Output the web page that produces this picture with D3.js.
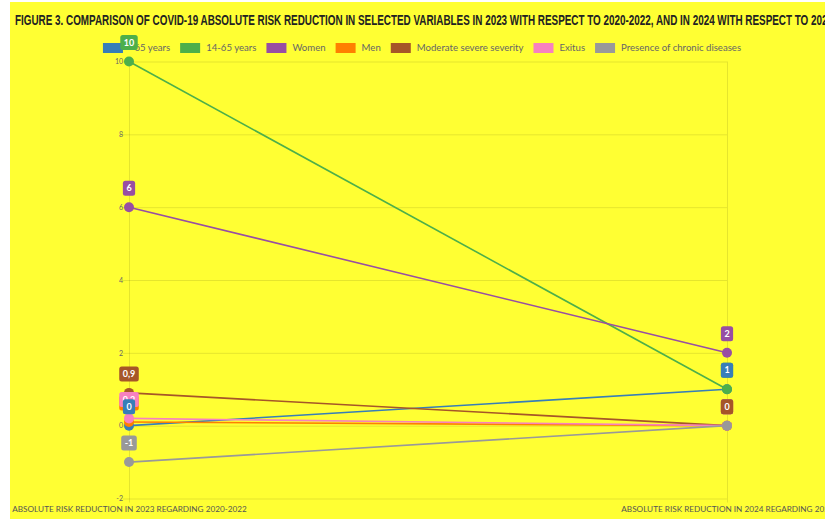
<!DOCTYPE html>
<html>
<head>
<meta charset="utf-8">
<script src="https://cdn.jsdelivr.net/npm/d3@7"></script>
<style>
  html, body { margin: 0; padding: 0; background: #ffffff; }
  svg { display: block; }
</style>
</head>
<body>
<svg id="chart" width="825" height="521"></svg>
<script>
// Chart data
const titleText = "FIGURE 3. COMPARISON OF COVID-19 ABSOLUTE RISK REDUCTION IN SELECTED VARIABLES IN 2023 WITH RESPECT TO 2020-2022, AND IN 2024 WITH RESPECT TO 2023";
const categories = [
  "ABSOLUTE RISK REDUCTION IN 2023 REGARDING 2020-2022",
  "ABSOLUTE RISK REDUCTION IN 2024 REGARDING 2023"
];
const seriesNames = [">65 years", "14-65 years", "Women", "Men", "Moderate severe severity", "Exitus", "Presence of chronic diseases"];
const seriesColors = ["#377eb8", "#4daf4a", "#984ea3", "#ff7f00", "#a65628", "#f781bf", "#999999"];
const seriesValues = [
  [0, 1],      // >65 years
  [10, 1],     // 14-65 years
  [6, 2],      // Women
  [0.1, 0],    // Men
  [0.9, 0],    // Moderate severe severity
  [0.2, 0],    // Exitus
  [-1, 0]      // Presence of chronic diseases
];
const yTicks = [10, 8, 6, 4, 2, 0, -2];
// order in which the value badges are stacked (last one on top)
const labelOrder = [1, 3, 5, 6, 2, 4, 0];

const svg = d3.select("#chart");
const W = 825, H = 521;
const plot = { left: 129, right: 727, top: 61.5, bottom: 498.5 };

// page background
svg.append("rect").attr("x", 10).attr("y", 2).attr("width", W - 10).attr("height", 517).attr("fill", "#ffff33");

const x = d3.scalePoint().domain(categories).range([plot.left, plot.right]);
const y = d3.scaleLinear().domain([-2, 10]).range([plot.bottom, plot.top]);

const gridColor = "rgba(0,0,0,0.1)";

// horizontal grid + y axis
const yAxis = d3.axisLeft(y).tickValues(yTicks).tickSize(0).tickPadding(6)
  .tickFormat(d => String(d));
const gy = svg.append("g").attr("transform", `translate(${plot.left},0)`).call(yAxis);
gy.select(".domain").remove();
gy.selectAll(".tick text").attr("font-family", "Lato, sans-serif").attr("font-size", 7).attr("fill", "#666");
gy.selectAll(".tick").append("line")
  .attr("x1", -6).attr("x2", plot.right - plot.left)
  .attr("stroke", gridColor).attr("stroke-width", 1);

// vertical grid + x axis
const xAxis = d3.axisBottom(x).tickSize(0).tickPadding(0);
const gx = svg.append("g").attr("transform", `translate(0,${plot.bottom})`).call(xAxis);
gx.select(".domain").remove();
gx.selectAll(".tick text")
  .attr("font-family", "Lato, sans-serif").attr("font-size", 8.2).attr("fill", "#555")
  .attr("y", 11).attr("dy", "0.35em");
gx.selectAll(".tick").append("line")
  .attr("y1", plot.top - plot.bottom).attr("y2", 4)
  .attr("stroke", gridColor).attr("stroke-width", 1);

// lines
const line = d3.line().x((d, i) => x(categories[i])).y(d => y(d));
const seriesG = svg.append("g");
seriesValues.forEach((vals, s) => {
  seriesG.append("path").datum(vals)
    .attr("d", line).attr("fill", "none")
    .attr("stroke", seriesColors[s]).attr("stroke-width", 1.6);
});
// points
seriesValues.forEach((vals, s) => {
  seriesG.selectAll(null).data(vals).enter().append("circle")
    .attr("cx", (d, i) => x(categories[i])).attr("cy", d => y(d))
    .attr("r", 5).attr("fill", seriesColors[s]);
});

// legend
const legend = svg.append("g").attr("font-family", "Lato, sans-serif").attr("font-size", 9.6);
const items = [];
seriesNames.forEach((name, s) => {
  const g = legend.append("g");
  g.append("rect").attr("x", 0).attr("y", -5).attr("width", 20).attr("height", 10).attr("fill", seriesColors[s]);
  const t = g.append("text").attr("x", 26).attr("y", 0).attr("dy", "0.35em").attr("fill", "#666").text(name);
  const w = 26 + t.node().getComputedTextLength();
  items.push({ g, w });
});
const totalW = d3.sum(items, d => d.w) + 10 * (items.length - 1);
let lx = 422 - totalW / 2;
items.forEach(it => { it.g.attr("transform", `translate(${lx},48)`); lx += it.w + 10; });

// title
svg.append("text")
  .attr("x", 15).attr("y", 25)
  .attr("font-family", "'Liberation Sans Narrow', 'Liberation Sans', sans-serif")
  .attr("font-weight", "bold").attr("font-size", 15).attr("fill", "#222")
  .attr("textLength", 818).attr("lengthAdjust", "spacingAndGlyphs")
  .text(titleText);

// value badges
const fmt = v => String(v).replace(".", ",");
const badges = svg.append("g").attr("font-family", "Lato, sans-serif").attr("font-weight", "bold").attr("font-size", 9);
labelOrder.forEach(s => {
  seriesValues[s].forEach((v, i) => {
    const cx = x(categories[i]), cy = y(v) - 19;
    const g = badges.append("g");
    const t = g.append("text").attr("x", cx).attr("y", cy).attr("dy", "0.35em")
      .attr("text-anchor", "middle").attr("fill", "#fff").text(fmt(v));
    const tw = t.node().getComputedTextLength();
    g.insert("rect", "text")
      .attr("x", cx - tw / 2 - 3.5).attr("y", cy - 7.5)
      .attr("width", tw + 7).attr("height", 15).attr("rx", 2.5)
      .attr("fill", seriesColors[s]);
  });
});
</script>
</body>
</html>
